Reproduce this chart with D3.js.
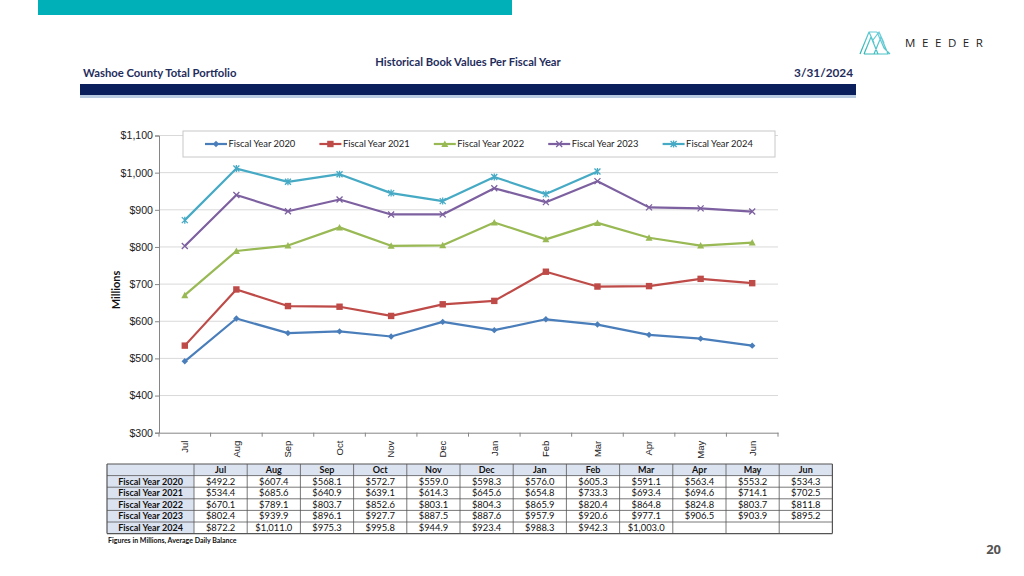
<!DOCTYPE html>
<html><head><meta charset="utf-8">
<script src="https://cdn.jsdelivr.net/npm/d3@7"></script>
<style>
html,body{margin:0;padding:0;background:#fff;}
svg{display:block;font-family:Lato,"Liberation Sans",sans-serif;}
</style></head>
<body>
<svg id="c" width="1024" height="576"></svg>
<script>
const months = ["Jul","Aug","Sep","Oct","Nov","Dec","Jan","Feb","Mar","Apr","May","Jun"];
const seriesNames = ["Fiscal Year 2020","Fiscal Year 2021","Fiscal Year 2022","Fiscal Year 2023","Fiscal Year 2024"];
const fy2020 = [492.2,607.4,568.1,572.7,559.0,598.3,576.0,605.3,591.1,563.4,553.2,534.3];
const fy2021 = [534.4,685.6,640.9,639.1,614.3,645.6,654.8,733.3,693.4,694.6,714.1,702.5];
const fy2022 = [670.1,789.1,803.7,852.6,803.1,804.3,865.9,820.4,864.8,824.8,803.7,811.8];
const fy2023 = [802.4,939.9,896.1,927.7,887.5,887.6,957.9,920.6,977.1,906.5,903.9,895.2];
const fy2024 = [872.2,1011.0,975.3,995.8,944.9,923.4,988.3,942.3,1003.0,null,null,null];
const yTicks = [300,400,500,600,700,800,900,1000,1100];
const colors = ["#4a7ebb","#be4b48","#98b954","#7d60a0","#46aac5"];
const markers = ["diamond","square","triangle","x","star"];
const allSeries = [fy2020,fy2021,fy2022,fy2023,fy2024];

const svg = d3.select("#c");

// top teal bar
svg.append("rect").attr("x",38).attr("y",0).attr("width",474).attr("height",15).attr("fill","#00b0b9");

// logo
const lg = svg.append("g").attr("transform","translate(860,31)");
const grad = svg.append("defs").append("linearGradient").attr("id","lgr").attr("x1","0").attr("y1","1").attr("x2","1").attr("y2","0");
grad.append("stop").attr("offset","0").attr("stop-color","#2bb3b0");
grad.append("stop").attr("offset","1").attr("stop-color","#7fd6e6");
lg.append("path").attr("d","M0,23 L9,1 L14,12 M4,23 L11,6 L18,23 M9,1 L17,1 M13,9 L19,1 L24,12 M14,23 L21,6 L28,23 L4,23 M19,1 L28,23 M17,1 L24,17 L30,23")
  .attr("fill","none").attr("stroke","url(#lgr)").attr("stroke-width",1.2).attr("stroke-linejoin","round");
svg.append("text").attr("x",905).attr("y",46.5).attr("font-size",11.5).attr("letter-spacing","6.6px").attr("fill","#222").attr("font-family","'Open Sans',sans-serif").text("MEEDER");

// header texts
svg.append("text").attr("x",468).attr("y",66).attr("text-anchor","middle").attr("font-size",11.2).attr("font-weight","bold").attr("fill","#1f2d5c").text("Historical Book Values Per Fiscal Year");
svg.append("text").attr("x",83).attr("y",77).attr("font-size",11.3).attr("font-weight","bold").attr("fill","#1f2d5c").text("Washoe County Total Portfolio");
svg.append("text").attr("x",853).attr("y",77).attr("text-anchor","end").attr("font-size",11.8).attr("font-weight","bold").attr("fill","#1f2d5c").text("3/31/2024");
svg.append("rect").attr("x",80).attr("y",84).attr("width",776).attr("height",11).attr("fill","#0b1f5c");
svg.append("rect").attr("x",80).attr("y",95).attr("width",776).attr("height",3).attr("fill","#b9cbe0");

// chart
const L=159, R=778, T=135.5, B=432.7;
const x = d3.scaleBand().domain(months).range([L,R]);
const y = d3.scaleLinear().domain([300,1100]).range([B,T]);

const g = svg.append("g");
g.selectAll("line.grid").data(yTicks.slice(1)).join("line")
  .attr("x1",L).attr("x2",R).attr("y1",d=>y(d)).attr("y2",d=>y(d))
  .attr("stroke","#d9d9d9").attr("stroke-width",1);

const yAxis = g.append("g").attr("transform",`translate(${L},0)`)
  .call(d3.axisLeft(y).tickValues(yTicks).tickSize(4).tickFormat(d=>"$"+d3.format(",")(d)));
yAxis.select(".domain").attr("stroke","#868686");
yAxis.selectAll(".tick line").attr("stroke","#868686");
yAxis.selectAll("text").attr("font-size",10.6).attr("fill","#222").attr("x",-6);

const xAxis = g.append("g").attr("transform",`translate(0,${B})`)
  .call(d3.axisBottom(x).tickSize(0).tickSizeOuter(0));
xAxis.select(".domain").attr("stroke","#868686");
xAxis.selectAll(".tick text").attr("transform","rotate(-90)").attr("x",-8).attr("y",0).attr("dy","0.35em")
  .attr("text-anchor","end").attr("font-size",9.5).attr("fill","#222");
// category separators ticks
g.selectAll("line.xt").data(months.concat(["_end"])).join("line")
  .attr("x1",(d,i)=>L+i*x.bandwidth()).attr("x2",(d,i)=>L+i*x.bandwidth())
  .attr("y1",B).attr("y2",B+4).attr("stroke","#868686");

svg.append("text").attr("transform","translate(120,290) rotate(-90)").attr("text-anchor","middle")
  .attr("font-size",11).attr("font-weight","bold").attr("fill","#111").text("Millions");

function drawMarker(sel, type, color){
  const s=3.2;
  if(type==="diamond") sel.append("path").attr("d",`M0,${-s} L${s},0 L0,${s} L${-s},0Z`).attr("fill",color);
  else if(type==="square") sel.append("rect").attr("x",-3.2).attr("y",-3.2).attr("width",6.4).attr("height",6.4).attr("fill",color);
  else if(type==="triangle") sel.append("path").attr("d",`M0,-3.5 L3.5,3 L-3.5,3Z`).attr("fill",color);
  else if(type==="x") sel.append("path").attr("d",`M-3,-3 L3,3 M-3,3 L3,-3`).attr("stroke",color).attr("stroke-width",1.3);
  else sel.append("path").attr("d",`M-3,-3 L3,3 M-3,3 L3,-3 M0,-3.5 L0,3.5`).attr("stroke",color).attr("stroke-width",1.3);
}

const line = d3.line().defined(d=>d.v!=null).x(d=>x(d.m)+x.bandwidth()/2).y(d=>y(d.v));
allSeries.forEach((vals,i)=>{
  const data = months.map((m,j)=>({m, v: vals[j]}));
  g.append("path").datum(data).attr("d",line).attr("fill","none").attr("stroke",colors[i]).attr("stroke-width",2.2).attr("stroke-linejoin","round");
  data.filter(d=>d.v!=null).forEach(d=>{
    const mg = g.append("g").attr("transform",`translate(${x(d.m)+x.bandwidth()/2},${y(d.v)})`);
    drawMarker(mg, markers[i], colors[i]);
  });
});

// legend
const leg = svg.append("g");
leg.append("rect").attr("x",183).attr("y",131).attr("width",592).attr("height",26).attr("fill","#fff").attr("stroke","#c8c8c8");
seriesNames.forEach((n,i)=>{
  const lx = 205 + i*114.4;
  const it = leg.append("g").attr("transform",`translate(${lx},144)`);
  it.append("line").attr("x1",0).attr("x2",22).attr("y1",0).attr("y2",0).attr("stroke",colors[i]).attr("stroke-width",2.2);
  const mg = it.append("g").attr("transform","translate(11,0)");
  drawMarker(mg, markers[i], colors[i]);
  it.append("text").attr("x",23.5).attr("y",0).attr("dy","0.35em").attr("font-size",9.4).attr("fill","#222").text(n);
});

// table
const tL=107, tFirst=87, tCol=53.2, tT=464, rH=11.6;
const tg = svg.append("g");
tg.append("rect").attr("x",tL).attr("y",tT).attr("width",tFirst+12*tCol).attr("height",rH).attr("fill","#dce3f0");
tg.append("rect").attr("x",tL).attr("y",tT).attr("width",tFirst).attr("height",rH*6).attr("fill","#dce3f0");
const fmt = v=> v==null? "" : "$"+d3.format(",.1f")(v);
months.forEach((m,j)=>{
  tg.append("text").attr("x",tL+tFirst+tCol*(j+0.5)).attr("y",tT+rH/2).attr("dy","0.35em").attr("text-anchor","middle")
    .attr("font-size",9).attr("font-weight","bold").attr("fill","#111").text(m);
});
allSeries.forEach((vals,i)=>{
  const ry = tT+rH*(i+1);
  tg.append("text").attr("x",tL+tFirst/2).attr("y",ry+rH/2).attr("dy","0.35em").attr("text-anchor","middle")
    .attr("font-size",9).attr("font-weight","bold").attr("fill","#111").text(seriesNames[i]);
  vals.forEach((v,j)=>{
    tg.append("text").attr("x",tL+tFirst+tCol*(j+0.5)).attr("y",ry+rH/2).attr("dy","0.35em").attr("text-anchor","middle")
      .attr("font-size",9.4).attr("fill","#111").text(fmt(v));
  });
});
for(let r=0;r<=6;r++){
  tg.append("line").attr("x1",tL).attr("x2",tL+tFirst+12*tCol).attr("y1",tT+r*rH).attr("y2",tT+r*rH).attr("stroke","#555").attr("stroke-width",r===0||r===6?1.2:0.8);
}
for(let c=0;c<=13;c++){
  const cx = c===0? tL : tL+tFirst+(c-1)*tCol;
  tg.append("line").attr("x1",cx).attr("x2",cx).attr("y1",tT).attr("y2",tT+6*rH).attr("stroke","#555").attr("stroke-width",c===0||c===13?1.2:0.8);
}
svg.append("text").attr("x",108).attr("y",543).attr("font-size",7).attr("font-weight","bold").attr("fill","#111").text("Figures in Millions, Average Daily Balance");

svg.append("text").attr("x",1001).attr("y",554).attr("text-anchor","end").attr("font-size",13).attr("font-weight","bold").attr("fill","#555").attr("font-family","'Open Sans',sans-serif").text("20");
</script>
</body></html>
